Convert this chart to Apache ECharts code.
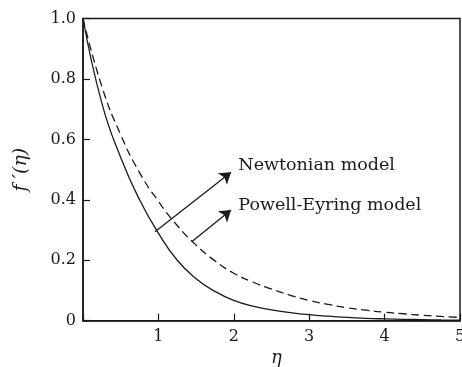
<!DOCTYPE html>
<html>
<head>
<meta charset="utf-8">
<script src="https://cdn.jsdelivr.net/npm/echarts@6/dist/echarts.min.js"></script>
<style>
  html, body { margin: 0; padding: 0; background: #fff; }
  #chart { width: 462px; height: 367px; }
</style>
</head>
<body>
<div id="chart"></div>
<script>
// 读图估计的数据
var eta = [0, 0.25, 0.5, 0.75, 1.0, 1.25, 1.5, 1.75, 2.0, 2.25, 2.5, 2.75, 3.0, 3.25, 3.5, 3.75, 4.0, 4.25, 4.5, 4.75, 5.0];
var newtonian = [1.0, 0.72, 0.54, 0.40, 0.29, 0.20, 0.139, 0.097, 0.067, 0.048, 0.036, 0.027, 0.020, 0.015, 0.011, 0.008, 0.006, 0.0045, 0.0035, 0.0025, 0.002];
var powellEyring = [1.0, 0.775, 0.615, 0.49, 0.395, 0.315, 0.25, 0.198, 0.157, 0.128, 0.105, 0.084, 0.067, 0.054, 0.043, 0.035, 0.028, 0.023, 0.018, 0.014, 0.011];
var xTicks = [0, 1, 2, 3, 4, 5];
var yTicks = [0, 0.2, 0.4, 0.6, 0.8, 1.0];
var labels = ["Newtonian model", "Powell-Eyring model"];

var font = "DejaVu Serif";
var ink = "#1a1a1a";

function pairs(xs, ys) {
  var out = [];
  for (var i = 0; i < xs.length; i++) out.push([xs[i], ys[i]]);
  return out;
}

var chart = echarts.init(document.getElementById("chart"));
var option = {
  animation: false,
  grid: {
    left: 83, right: 2, top: 18.5, bottom: 46.3,
    outerBoundsMode: "none",
    show: true, borderColor: ink, borderWidth: 1.5
  },
  xAxis: {
    type: "value",
    min: xTicks[0], max: xTicks[xTicks.length - 1], interval: 1,
    name: "η", nameLocation: "middle", nameGap: 28,
    nameTextStyle: { fontFamily: font, fontStyle: "italic", fontSize: 18, color: ink, padding: [0, 0, 0, 10] },
    axisLine: { lineStyle: { color: ink, width: 1.5 } },
    axisTick: { inside: true, length: 7, lineStyle: { color: ink, width: 1.2 } },
    axisLabel: {
      fontFamily: font, fontSize: 16, color: ink, margin: 8,
      formatter: function (v) { return v === 0 ? "" : String(v); }
    },
    splitLine: { show: false }
  },
  yAxis: {
    type: "value",
    min: yTicks[0], max: yTicks[yTicks.length - 1], interval: 0.2,
    name: "f ′(η)", nameLocation: "middle", nameGap: 52,
    nameTextStyle: { fontFamily: font, fontStyle: "italic", fontSize: 19, color: ink },
    axisLine: { lineStyle: { color: ink, width: 1.5 } },
    axisTick: { inside: true, length: 7, lineStyle: { color: ink, width: 1.2 } },
    axisLabel: {
      fontFamily: font, fontSize: 16, color: ink, margin: 7,
      formatter: function (v) { return v === 0 ? "0" : v.toFixed(1); }
    },
    splitLine: { show: false }
  },
  series: [
    {
      name: labels[0],
      type: "line",
      data: pairs(eta, newtonian),
      smooth: true,
      showSymbol: false,
      lineStyle: { color: ink, width: 1.3 },
      markLine: {
        silent: true,
        symbol: ["none", "arrow"],
        symbolSize: 11,
        itemStyle: { color: ink },
        lineStyle: { color: ink, width: 1.3, type: "solid" },
        label: { show: false },
        data: [
          [{ coord: [0.955, 0.2945] }, { coord: [1.963, 0.491] }],
          [{ coord: [1.442, 0.261] }, { coord: [1.963, 0.366] }]
        ]
      },
      markPoint: {
        silent: true,
        symbol: "circle",
        symbolSize: 0,
        label: {
          show: true, position: "right", distance: 0,
          fontFamily: font, fontSize: 17.5, color: ink
        },
        data: [
          { coord: [2.06, 0.515], value: 1, label: { formatter: labels[0] } },
          { coord: [2.06, 0.383], value: 2, label: { formatter: labels[1] } }
        ]
      }
    },
    {
      name: labels[1],
      type: "line",
      data: pairs(eta, powellEyring),
      smooth: true,
      showSymbol: false,
      lineStyle: { color: ink, width: 1.3, type: [8, 4.5] }
    }
  ]
};
chart.setOption(option);
</script>
</body>
</html>
